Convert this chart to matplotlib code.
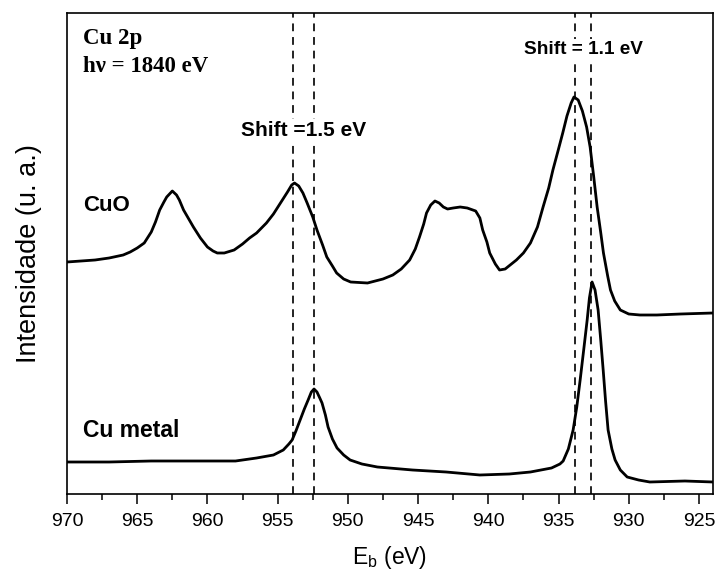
import numpy as np
import matplotlib.pyplot as plt
from matplotlib.ticker import MultipleLocator
import matplotlib.transforms as mtransforms

plt.rcParams['font.family'] = ['Liberation Sans', 'DejaVu Sans']
plt.rcParams['mathtext.default'] = 'regular'

# CuO spectrum (binding energy eV, intensity a.u.)
cuo_e = [970.0, 968.0, 967.0, 966.0, 965.5, 965.0, 964.5, 964.0, 963.7, 963.4,
         963.1, 962.9, 962.5, 962.2, 962.0, 961.7, 961.0, 960.5, 960.0, 959.6,
         959.3, 958.8, 958.1, 957.5, 957.0, 956.5, 955.8, 955.3, 954.8, 954.3,
         954.0, 953.8, 953.5, 953.2, 952.9, 952.5, 952.2, 951.8, 951.5, 951.1,
         950.8, 950.3, 949.8, 948.6, 947.5, 946.8, 946.2, 945.6, 945.2, 944.9,
         944.6, 944.4, 944.1, 943.8, 943.5, 943.2, 942.9, 942.5, 942.0, 941.5,
         940.9, 940.6, 940.4, 940.1, 939.9, 939.5, 939.2, 938.8, 938.0, 937.5,
         937.0, 936.5, 936.1, 935.7, 935.4, 935.0, 934.7, 934.4, 934.1, 933.9,
         933.6, 933.3, 933.0, 932.75, 932.5, 932.25, 932.0, 931.8, 931.5, 931.3,
         931.0, 930.6, 930.0, 929.2, 928.0, 926.3, 924.0]
cuo_i = [232, 234, 236, 239, 242, 246, 251, 262, 272, 284,
         292, 297, 303, 299, 294, 284, 267, 256, 247, 243,
         241, 241, 244, 250, 256, 261, 271, 280, 291, 302,
         309, 311, 308, 301, 291, 277, 264, 249, 237, 228,
         221, 215, 212, 211, 215, 219, 225, 234, 245, 257,
         270, 281, 289, 293, 291, 287, 285, 286, 287, 286,
         283, 276, 264, 252, 241, 230, 224, 225, 234, 241,
         251, 267, 287, 306, 324, 345, 361, 378, 391, 397,
         394, 383, 367, 347, 318, 287, 262, 241, 218, 204,
         193, 184, 180, 179, 179, 180, 181]

# Cu metal spectrum
cu_e = [970.0, 967.0, 964.0, 961.0, 958.0, 956.5, 955.3, 954.6, 954.2, 953.97,
        953.7, 953.4, 953.1, 952.83, 952.6, 952.41, 952.2, 952.0, 951.84, 951.6,
        951.41, 951.1, 950.77, 950.3, 949.84, 949.0, 947.9, 945.4, 943.0, 940.6,
        938.5, 937.0, 935.5, 934.9, 934.67, 934.3, 933.96, 933.7, 933.46, 933.2,
        932.96, 932.8, 932.61, 932.4, 932.18, 932.0, 931.82, 931.65, 931.47, 931.2,
        930.97, 930.6, 930.11, 929.3, 928.5, 926.0, 924.0]
cu_i = [32, 32, 33, 33, 33, 36, 39, 44, 50, 54,
        63, 74, 85, 94, 102, 105, 102, 96, 91, 79,
        67, 55, 46, 39, 34, 30, 27, 24, 22, 19,
        20, 22, 26, 30, 33, 45, 64, 87, 114, 145,
        174, 196, 212, 204, 184, 155, 124, 93, 64, 45,
        34, 24, 17, 14, 12, 13, 12]

# peak positions marked with dashed lines
peaks_2p12 = [953.9, 952.4]
peaks_2p32 = [933.8, 932.7]

fig = plt.figure(figsize=(7.17, 5.71), dpi=100)
ax = fig.add_axes([67/717, 77/571, 646/717, 481/571])

ax.plot(cuo_e, cuo_i, color='black', lw=2.0)
ax.plot(cu_e, cu_i, color='black', lw=2.0)

for p in peaks_2p12 + peaks_2p32:
    ax.axvline(p, color='#222222', lw=1.4, linestyle=(0, (4, 3)), zorder=1)

ax.set_xlim(970, 924)
ax.set_ylim(0, 481)
ax.xaxis.set_major_locator(MultipleLocator(5))
ax.xaxis.set_minor_locator(MultipleLocator(2.5))
ax.tick_params(axis='x', which='major', length=7.5, width=1.1, labelsize=14,
               pad=6, direction='out')
ax.tick_params(axis='x', which='minor', length=4, width=1.1, direction='out')
ax.set_yticks([])
for s in ax.spines.values():
    s.set_linewidth(1.2)

ax.set_ylabel('Intensidade (u. a.)', fontsize=19.5, labelpad=18)
ax.set_xlabel('$E_b$ (eV)', fontsize=16.5, labelpad=10)

trans = mtransforms.blended_transform_factory(ax.transData, ax.transAxes)
bg = dict(facecolor='white', edgecolor='none', pad=1.5)
ax.text(np.mean(peaks_2p12), 0.744, 'Shift =1.5 eV', transform=trans, ha='center',
        va='baseline', fontsize=15, fontweight='bold', bbox=bg, zorder=3)
ax.text(np.mean(peaks_2p32), 0.915, 'Shift = 1.1 eV', transform=trans, ha='center',
        va='baseline', fontsize=13.7, fontweight='bold', bbox=bg, zorder=3)

ax.text(0.025, 0.936, 'Cu 2p', transform=ax.transAxes, va='baseline',
        fontsize=16.5, fontweight='bold', family=['Liberation Serif', 'DejaVu Serif'])
ax.text(0.025, 0.877, 'h\u03bd = 1840 eV', transform=ax.transAxes, va='baseline',
        fontsize=16.5, fontweight='bold', family=['Liberation Serif', 'DejaVu Serif'])
ax.text(0.025, 0.588, 'CuO', transform=ax.transAxes, va='baseline',
        fontsize=16, fontweight='bold')
ax.text(0.025, 0.1185, 'Cu metal', transform=ax.transAxes, va='baseline',
        fontsize=16.5, fontweight='bold')

fig.savefig('out.png', dpi=100)
